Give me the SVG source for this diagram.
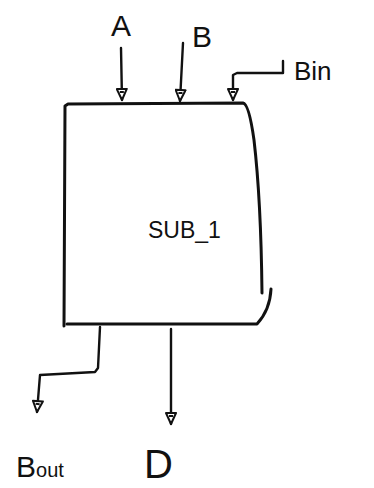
<svg xmlns="http://www.w3.org/2000/svg" width="374" height="488" viewBox="0 0 374 488">
<defs>
<marker id="ah" viewBox="0 0 14 12" refX="13" refY="6" markerWidth="14" markerHeight="12" markerUnits="userSpaceOnUse" orient="auto">
<path d="M2,1 L2,11 L13,6 Z M5,4 L5,8" fill="#fff" stroke="#111" stroke-width="2" stroke-linejoin="round"/>
</marker>
<style>
.ln{fill:none;stroke:#111;stroke-width:2.4;stroke-linecap:round;stroke-linejoin:round}
.bx{fill:none;stroke:#111;stroke-width:3;stroke-linecap:round;stroke-linejoin:round}
.lb{font-family:"Liberation Sans",Arial,sans-serif;fill:#111}
</style>
</defs>
<rect width="374" height="488" fill="#fff"/>
<g id="sub1">
<path class="bx" d="M64,326 L65,106 L68,104 L243,103 Q249,104 254,140 Q261,200 262,293"/>
<path class="bx" d="M271,289 Q270,310 257,324 L67,324"/>
<text class="lb" x="148" y="238" font-size="23">SUB_1</text>
</g>
<g id="A"><text class="lb" x="111" y="36" font-size="30">A</text></g>
<g id="B"><text class="lb" x="192" y="47" font-size="30">B</text></g>
<g id="Bin"><text class="lb" x="294" y="80" font-size="26">Bin</text></g>
<g id="Bout"><text class="lb" x="16" y="477" font-size="30">B<tspan font-size="20">out</tspan></text></g>
<g id="D"><text class="lb" x="144" y="478" font-size="40">D</text></g>
<g id="connectors">
<path class="ln" d="M121,48 L122,100" marker-end="url(#ah)"/>
<path class="ln" d="M183,43 L180,101" marker-end="url(#ah)"/>
<path class="ln" d="M283,61 L283,73 L237,73 L233,75 L233,100" marker-end="url(#ah)"/>
<path class="ln" d="M100,327 L98,368 L95,372 L40,375 L37,412" marker-end="url(#ah)"/>
<path class="ln" d="M171,329 L171,424" marker-end="url(#ah)"/>
</g>
</svg>
